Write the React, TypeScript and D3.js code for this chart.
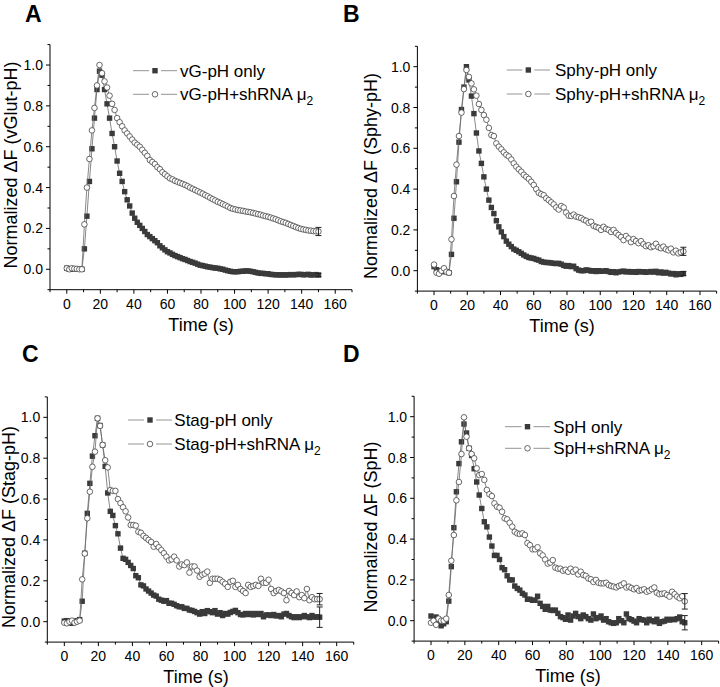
import React from "react";
import * as d3 from "d3";

// sample times (s), shared by every trace
const times = [
  0, 1.5, 3, 4.5, 6, 7.5, 9, 10.5, 12, 13.5,
  15, 16.5, 18, 19.5, 21, 22.5, 24, 25.5, 27, 28.5,
  30, 31.5, 33, 34.5, 36, 37.5, 39, 40.5, 42, 43.5,
  45, 46.5, 48, 49.5, 51, 52.5, 54, 55.5, 57, 58.5,
  60, 61.5, 63, 64.5, 66, 67.5, 69, 70.5, 72, 73.5,
  75, 76.5, 78, 79.5, 81, 82.5, 84, 85.5, 87, 88.5,
  90, 91.5, 93, 94.5, 96, 97.5, 99, 100.5, 102, 103.5,
  105, 106.5, 108, 109.5, 111, 112.5, 114, 115.5, 117, 118.5,
  120, 121.5, 123, 124.5, 126, 127.5, 129, 130.5, 132, 133.5,
  135, 136.5, 138, 139.5, 141, 142.5, 144, 145.5, 147, 148.5,
  150,
];

// A: vGlut-pH
const vgOnly = [
  0.005, 0, 0, 0, 0, 0, 0, 0.1, 0.26, 0.43,
  0.59, 0.74, 0.88, 0.97, 0.95, 0.88, 0.81, 0.74, 0.665, 0.6,
  0.53, 0.47, 0.43, 0.38, 0.34, 0.31, 0.275, 0.25, 0.23, 0.215,
  0.2, 0.185, 0.17, 0.16, 0.15, 0.14, 0.13, 0.115, 0.105, 0.095,
  0.086, 0.08, 0.073, 0.067, 0.062, 0.057, 0.052, 0.048, 0.043, 0.038,
  0.034, 0.03, 0.025, 0.02, 0.018, 0.015, 0.012, 0.01, 0.008, 0.006,
  0.005, 0.002, 0, -0.004, -0.007, -0.01, -0.012, -0.012, -0.012, -0.01,
  -0.01, -0.008, -0.008, -0.01, -0.012, -0.015, -0.018, -0.02, -0.02, -0.022,
  -0.022, -0.025, -0.026, -0.027, -0.027, -0.028, -0.027, -0.028, -0.027, -0.026,
  -0.027, -0.026, -0.025, -0.025, -0.027, -0.026, -0.025, -0.028, -0.027, -0.026,
  -0.028,
];
const vgShrna = [
  0.005, 0, 0.005, 0.003, 0.002, 0, 0, 0.22, 0.4, 0.54,
  0.68, 0.79, 0.9, 1.0, 0.96, 0.92, 0.89, 0.85, 0.81, 0.78,
  0.74, 0.72, 0.7, 0.68, 0.665, 0.65, 0.635, 0.62, 0.61, 0.6,
  0.585, 0.57, 0.555, 0.535, 0.525, 0.515, 0.5, 0.49, 0.475, 0.465,
  0.455, 0.445, 0.44, 0.433, 0.428, 0.423, 0.418, 0.413, 0.407, 0.4,
  0.394, 0.388, 0.382, 0.376, 0.37, 0.363, 0.357, 0.35, 0.343, 0.337,
  0.33, 0.325, 0.319, 0.313, 0.307, 0.3, 0.296, 0.293, 0.29, 0.288,
  0.286, 0.283, 0.281, 0.279, 0.276, 0.273, 0.27, 0.267, 0.263, 0.26,
  0.257, 0.253, 0.249, 0.245, 0.24, 0.235, 0.231, 0.227, 0.222, 0.217,
  0.212, 0.207, 0.202, 0.198, 0.195, 0.193, 0.19, 0.189, 0.187, 0.186,
  0.185,
];

// B: Sphy-pH
const sphyOnly = [
  0.02, 0.005, 0, -0.005, 0, -0.005, -0.01, 0.08, 0.257, 0.436,
  0.63, 0.79, 0.9, 1.0, 0.935, 0.856, 0.77, 0.675, 0.587, 0.526,
  0.46, 0.4, 0.346, 0.31, 0.28, 0.245, 0.215, 0.19, 0.167, 0.145,
  0.13, 0.118, 0.106, 0.1, 0.093, 0.085, 0.077, 0.07, 0.065, 0.062,
  0.06, 0.055, 0.052, 0.045, 0.042, 0.04, 0.04, 0.038, 0.036, 0.035,
  0.036, 0.032, 0.026, 0.022, 0.025, 0.02, 0.022, 0.01, 0.003, 0,
  0, 0.004, 0.002, -0.002, 0, -0.004, 0, -0.003, -0.002, 0,
  -0.004, -0.008, -0.005, -0.01, -0.006, -0.004, -0.002, -0.006, -0.004, -0.007,
  -0.005, -0.008, -0.004, -0.006, -0.005, -0.008, -0.006, -0.004, -0.007, -0.003,
  -0.01, -0.006, -0.012, -0.008, -0.012, -0.016, -0.014, -0.02, -0.015, -0.018,
  -0.014,
];
const sphyShrna = [
  0.03, -0.01, -0.015, 0, 0.012, -0.005, -0.01, 0.154, 0.366, 0.52,
  0.66, 0.775, 0.89, 0.984, 0.95, 0.918, 0.889, 0.858, 0.817, 0.788,
  0.763, 0.74, 0.7, 0.665, 0.66, 0.624, 0.608, 0.595, 0.58, 0.568,
  0.56, 0.545, 0.526, 0.51, 0.497, 0.485, 0.47, 0.46, 0.45, 0.436,
  0.42, 0.4, 0.382, 0.375, 0.37, 0.355, 0.346, 0.335, 0.325, 0.31,
  0.3, 0.317, 0.31, 0.285, 0.27, 0.268, 0.275, 0.265, 0.262, 0.258,
  0.25, 0.245, 0.235, 0.24, 0.22, 0.215, 0.21, 0.2, 0.215, 0.205,
  0.2, 0.19, 0.2, 0.185, 0.175, 0.165, 0.15, 0.17, 0.158, 0.14,
  0.155, 0.145, 0.135, 0.145, 0.13, 0.12, 0.125, 0.115, 0.12, 0.132,
  0.115, 0.11, 0.118, 0.105, 0.1, 0.108, 0.09, 0.098, 0.085, 0.09,
  0.095,
];

// C: Stag-pH
const stagOnly = [
  0.003, 0.005, 0.003, -0.008, 0, 0.005, 0.01, 0.1, 0.335, 0.53,
  0.677, 0.81, 0.91, 0.995, 0.96, 0.865, 0.76, 0.63, 0.54, 0.52,
  0.47, 0.43, 0.36, 0.31, 0.305, 0.29, 0.275, 0.26, 0.225, 0.215,
  0.18, 0.175, 0.16, 0.15, 0.14, 0.13, 0.125, 0.11, 0.105, 0.1,
  0.103, 0.09, 0.09, 0.085, 0.078, 0.073, 0.073, 0.065, 0.065, 0.057,
  0.055, 0.05, 0.044, 0.037, 0.049, 0.04, 0.054, 0.049, 0.044, 0.054,
  0.037, 0.044, 0.03, 0.04, 0.037, 0.045, 0.05, 0.055, 0.044, 0.035,
  0.033, 0.04, 0.035, 0.04, 0.033, 0.04, 0.035, 0.04, 0.024, 0.033,
  0.033, 0.03, 0.035, 0.028, 0.03, 0.024, 0.037, 0.04, 0.03, 0.024,
  0.02, 0.024, 0.02, 0.024, 0.03, 0.024, 0.02, 0.03, 0.022, 0.024,
  0.022,
];
const stagShrna = [
  -0.005, -0.008, 0, 0.005, -0.005, 0, 0.005, 0.207, 0.333, 0.506,
  0.636, 0.758, 0.832, 0.995, 0.958, 0.865, 0.79, 0.755, 0.644, 0.64,
  0.64, 0.6, 0.58, 0.56, 0.54, 0.51, 0.473, 0.473, 0.47, 0.44,
  0.435, 0.42, 0.41, 0.4, 0.39, 0.367, 0.38, 0.364, 0.35, 0.335,
  0.318, 0.3, 0.305, 0.318, 0.3, 0.27, 0.28, 0.277, 0.29, 0.24,
  0.27, 0.27, 0.25, 0.22, 0.23, 0.235, 0.245, 0.19, 0.21, 0.21,
  0.21, 0.205, 0.195, 0.185, 0.17, 0.195, 0.2, 0.17, 0.18, 0.16,
  0.15, 0.14, 0.18, 0.17, 0.175, 0.18, 0.175, 0.21, 0.19, 0.19,
  0.205, 0.16, 0.14, 0.15, 0.155, 0.148, 0.14, 0.105, 0.15, 0.14,
  0.13, 0.148, 0.12, 0.13, 0.115, 0.16, 0.105, 0.12, 0.11, 0.11,
  0.11,
];

// D: SpH
const sphOnly = [
  0.023, 0.005, 0.018, 0, -0.025, -0.015, -0.005, 0.096, 0.265, 0.456,
  0.632, 0.77, 0.877, 0.964, 0.92, 0.845, 0.81, 0.745, 0.68, 0.616,
  0.55, 0.485, 0.46, 0.41, 0.366, 0.32, 0.32, 0.3, 0.26, 0.25,
  0.22, 0.2, 0.2, 0.17, 0.158, 0.15, 0.134, 0.126, 0.105, 0.105,
  0.1, 0.1, 0.12, 0.085, 0.07, 0.056, 0.07, 0.052, 0.05, 0.052,
  0.036, 0.02, 0.015, 0.007, 0.028, 0.003, 0.023, 0.036, 0.02, 0.01,
  0.028, 0.02, 0.01, 0.003, 0.033, 0.01, 0.015, 0.023, 0.003, 0.01,
  -0.005, -0.01, -0.013, -0.01, 0.01, 0, -0.01, 0.033, 0.01, 0.005,
  -0.002, -0.01, 0.01, 0.005, 0.003, -0.01, 0.007, 0, -0.005, 0.007,
  -0.013, -0.005, -0.002, 0.007, 0.003, 0.007, 0.005, 0.01, 0.018, -0.005,
  -0.01,
];
const sphShrna = [
  -0.01, 0, -0.02, 0.01, 0, 0, 0.01, 0.126, 0.294, 0.42,
  0.59, 0.68, 0.817, 0.997, 0.902, 0.845, 0.817, 0.796, 0.747, 0.714,
  0.719, 0.69, 0.641, 0.62, 0.611, 0.575, 0.559, 0.554, 0.534, 0.502,
  0.497, 0.48, 0.461, 0.436, 0.428, 0.425, 0.428, 0.42, 0.38, 0.37,
  0.35, 0.35, 0.36, 0.33, 0.32, 0.3, 0.28, 0.285, 0.297, 0.26,
  0.255, 0.255, 0.245, 0.25, 0.24, 0.255, 0.24, 0.25, 0.227, 0.24,
  0.224, 0.22, 0.207, 0.203, 0.19, 0.2, 0.186, 0.183, 0.183, 0.186,
  0.175, 0.17, 0.167, 0.163, 0.17, 0.175, 0.183, 0.163, 0.167, 0.16,
  0.154, 0.16, 0.147, 0.15, 0.154, 0.142, 0.147, 0.155, 0.163, 0.137,
  0.13, 0.132, 0.134, 0.126, 0.118, 0.142, 0.13, 0.118, 0.11, 0.12,
  0.095,
];

// SEM at the last point
const lastErrOnly = [0.008, 0.01, 0.05, 0.035];
const lastErrShrna = [0.02, 0.02, 0.028, 0.038];

const panelLetters = ["A", "B", "C", "D"];
const probeNames = ["vG-pH", "Sphy-pH", "Stag-pH", "SpH"];
const yLabelNames = ["vGlut-pH", "Sphy-pH", "Stag-pH", "SpH"];
const onlySeries = [vgOnly, sphyOnly, stagOnly, sphOnly];
const shrnaSeries = [vgShrna, sphyShrna, stagShrna, sphShrna];

const xTicks = [0, 20, 40, 60, 80, 100, 120, 140, 160];
const yTicks = [0, 0.2, 0.4, 0.6, 0.8, 1.0];

// pixel frame of each panel (x -10..170, y -0.1..1.1)
const layout = [
  { left: 50, right: 352, top: 44.6, bottom: 289.7, letter: [25, 22], yt: [17, 165], xt: [201, 331], leg: [133, 177, 180, 70.7, 94.3] },
  { left: 417.4, right: 716.6, top: 46.3, bottom: 291.1, letter: [343, 22], yt: [377, 176], xt: [562, 332], leg: [506.7, 550, 555, 70, 94] },
  { left: 47.3, right: 353.7, top: 396.9, bottom: 642.1, letter: [22, 362], yt: [15, 527], xt: [196, 683], leg: [128, 172, 174.3, 420, 444] },
  { left: 414.1, right: 718.6, top: 396.3, bottom: 641.1, letter: [343, 362], yt: [377, 527], xt: [568, 682], leg: [505, 550, 553.3, 426.7, 448.3] },
];

const FONT = "'Liberation Sans', Arial, Helvetica, sans-serif";
const DARK = "#3a3a3a";
const LINE = "#6a6a6a";

function Square({ x, y }) {
  return <rect x={x - 2.7} y={y - 2.7} width={5.4} height={5.4} fill={DARK} />;
}
function Circle({ x, y }) {
  return <circle cx={x} cy={y} r={2.8} fill="#fff" stroke="#444" strokeWidth={0.8} />;
}

function Panel({ i }) {
  const L = layout[i];
  const x = d3.scaleLinear().domain([-10, 170]).range([L.left, L.right]);
  const y = d3.scaleLinear().domain([-0.1, 1.1]).range([L.bottom, L.top]);
  const line = d3
    .line<number>()
    .x((_, k) => x(times[k]))
    .y((d) => y(d));
  const only = onlySeries[i];
  const shrna = shrnaSeries[i];
  const last = times.length - 1;
  const [lx1, lx2, tx, ly1, ly2] = L.leg;
  const lm = (lx1 + lx2) / 2;

  const errBar = (v, e, key) => (
    <g key={key} stroke="#222" strokeWidth={1}>
      <line x1={x(times[last])} x2={x(times[last])} y1={y(v - e)} y2={y(v + e)} />
      <line x1={x(times[last]) - 3} x2={x(times[last]) + 3} y1={y(v - e)} y2={y(v - e)} />
      <line x1={x(times[last]) - 3} x2={x(times[last]) + 3} y1={y(v + e)} y2={y(v + e)} />
    </g>
  );

  return (
    <g fontFamily={FONT}>
      <text x={L.letter[0]} y={L.letter[1]} fontSize={23} fontWeight="bold">
        {panelLetters[i]}
      </text>

      {/* axes */}
      <line x1={L.left} x2={L.left} y1={L.top} y2={L.bottom} stroke="#000" />
      <line x1={L.left} x2={L.right} y1={L.bottom} y2={L.bottom} stroke="#000" />
      {d3.range(-10, 171, 10).map((t) => (
        <line key={"xt" + t} x1={x(t)} x2={x(t)} y1={L.bottom} y2={L.bottom + (t % 20 === 0 ? 4 : 2.5)} stroke="#000" />
      ))}
      {d3.range(-1, 12).map((k) => (
        <line key={"yt" + k} x1={L.left} x2={L.left - (k % 2 === 0 ? 4 : 2.5)} y1={y(k / 10)} y2={y(k / 10)} stroke="#000" />
      ))}
      {xTicks.map((t) => (
        <text key={"xl" + t} x={x(t)} y={L.bottom + 19} fontSize={14} textAnchor="middle">
          {t}
        </text>
      ))}
      {yTicks.map((v) => (
        <text key={"yl" + v} x={L.left - 7} y={y(v)} dy="0.36em" fontSize={14} textAnchor="end">
          {d3.format(".1f")(v)}
        </text>
      ))}
      <text x={L.xt[0]} y={L.xt[1]} fontSize={18} textAnchor="middle">
        Time (s)
      </text>
      <text
        transform={`translate(${L.yt[0]},${L.yt[1]}) rotate(-90)`}
        fontSize={18}
        textAnchor="middle"
      >
        Normalized ΔF ({yLabelNames[i]})
      </text>

      {/* traces */}
      <path d={line(only)} fill="none" stroke={LINE} strokeWidth={0.8} />
      {only.map((v, k) => (
        <Square key={"o" + k} x={x(times[k])} y={y(v)} />
      ))}
      {errBar(only[last], lastErrOnly[i], "eo")}
      <path d={line(shrna)} fill="none" stroke={LINE} strokeWidth={0.8} />
      {shrna.map((v, k) => (
        <Circle key={"s" + k} x={x(times[k])} y={y(v)} />
      ))}
      {errBar(shrna[last], lastErrShrna[i], "es")}

      {/* legend */}
      <g stroke="#888" strokeWidth={0.9}>
        <line x1={lx1} x2={lm - 6} y1={ly1} y2={ly1} />
        <line x1={lm + 6} x2={lx2} y1={ly1} y2={ly1} />
        <line x1={lx1} x2={lm - 6} y1={ly2} y2={ly2} />
        <line x1={lm + 6} x2={lx2} y1={ly2} y2={ly2} />
      </g>
      <Square x={lm} y={ly1} />
      <Circle x={lm} y={ly2} />
      <text x={tx} y={ly1 + 6} fontSize={17}>
        {probeNames[i]} only
      </text>
      <text x={tx} y={ly2 + 6} fontSize={17}>
        {probeNames[i]}+shRNA μ
        <tspan dy={5} fontSize={12}>
          2
        </tspan>
      </text>
    </g>
  );
}

export default function App() {
  return (
    <svg
      width={720}
      height={687}
      viewBox="0 0 720 687"
      style={{ position: "absolute", left: 0, top: 0, background: "#fff" }}
    >
      <rect width={720} height={687} fill="#fff" />
      {[0, 1, 2, 3].map((i) => (
        <Panel key={i} i={i} />
      ))}
    </svg>
  );
}
